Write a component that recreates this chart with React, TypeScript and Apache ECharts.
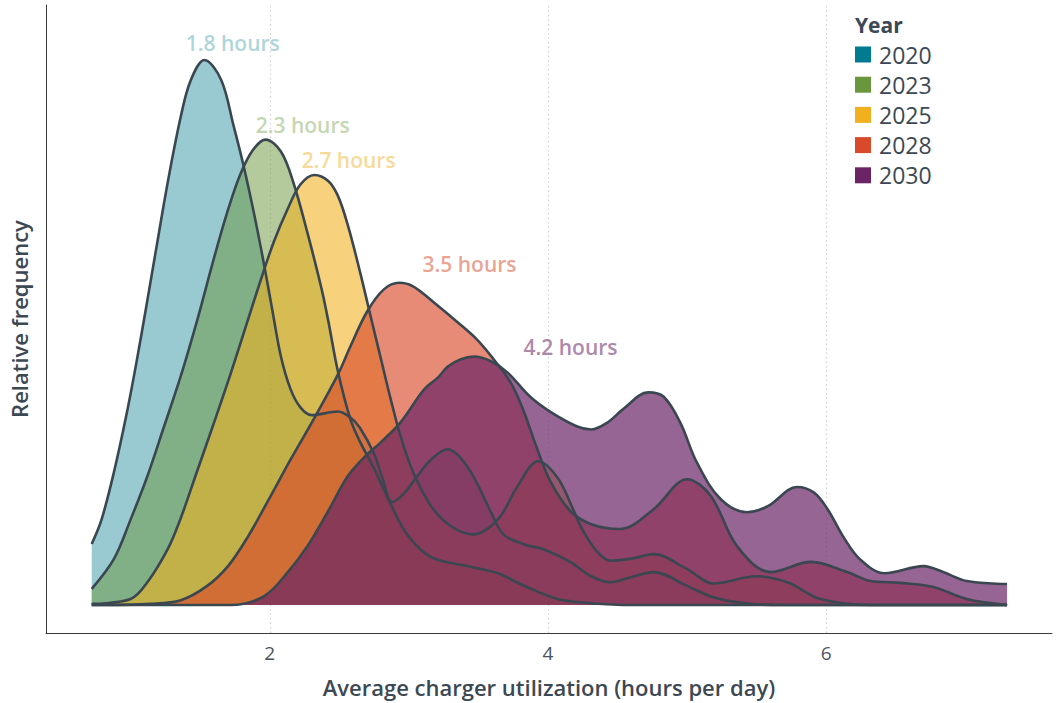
import React, { useEffect, useRef } from "react";
import * as echarts from "echarts";

// ---- data (x: hours per day, y: relative frequency) ----
const years = ["2020", "2023", "2025", "2028", "2030"];

const d2020: [number, number][] = [
  [0.72, 0.102], [0.79, 0.142], [0.88, 0.222], [0.97, 0.318], [1.04, 0.403], [1.11, 0.495],
  [1.18, 0.59], [1.27, 0.71], [1.36, 0.815], [1.43, 0.875], [1.53, 0.91], [1.65, 0.877],
  [1.74, 0.8], [1.81, 0.735], [1.89, 0.65], [1.96, 0.567], [2.02, 0.49], [2.08, 0.415],
  [2.15, 0.36], [2.22, 0.33], [2.3, 0.317], [2.49, 0.323], [2.58, 0.313], [2.65, 0.295],
  [2.75, 0.252], [2.81, 0.212], [2.88, 0.172], [2.96, 0.185], [3.06, 0.215], [3.16, 0.243],
  [3.28, 0.26], [3.37, 0.246], [3.47, 0.212], [3.59, 0.155], [3.68, 0.118], [3.82, 0.102],
  [3.98, 0.092], [4.16, 0.072], [4.31, 0.048], [4.45, 0.038], [4.59, 0.046], [4.76, 0.055],
  [5.0, 0.032], [5.2, 0.012], [5.45, 0.002], [5.7, 0], [7.3, 0],
];

const d2023: [number, number][] = [
  [0.72, 0.027], [0.88, 0.077], [1.0, 0.143], [1.12, 0.215], [1.24, 0.298], [1.36, 0.382],
  [1.48, 0.477], [1.6, 0.58], [1.7, 0.66], [1.79, 0.72], [1.88, 0.76], [1.97, 0.777],
  [2.08, 0.757], [2.17, 0.705], [2.27, 0.622], [2.37, 0.53], [2.42, 0.475], [2.49, 0.39],
  [2.58, 0.31], [2.65, 0.272], [2.75, 0.228], [2.87, 0.168], [2.99, 0.117], [3.16, 0.08],
  [3.42, 0.065], [3.64, 0.053], [3.82, 0.033], [4.07, 0.01], [4.31, 0.003], [4.6, 0], [7.3, 0],
];

const d2025: [number, number][] = [
  [0.72, 0.002], [1.0, 0.01], [1.12, 0.038], [1.27, 0.095], [1.36, 0.145], [1.48, 0.225],
  [1.6, 0.305], [1.72, 0.387], [1.84, 0.474], [1.94, 0.546], [2.03, 0.607], [2.13, 0.662],
  [2.22, 0.702], [2.32, 0.718], [2.42, 0.708], [2.49, 0.683], [2.56, 0.635], [2.65, 0.555],
  [2.73, 0.477], [2.8, 0.41], [2.87, 0.343], [2.94, 0.282], [3.03, 0.222], [3.16, 0.165],
  [3.3, 0.132], [3.46, 0.118], [3.64, 0.143], [3.78, 0.198], [3.93, 0.24], [4.07, 0.212],
  [4.18, 0.16], [4.25, 0.125], [4.35, 0.09], [4.45, 0.074], [4.59, 0.077], [4.76, 0.085],
  [5.0, 0.06], [5.19, 0.036], [5.5, 0.048], [5.72, 0.038], [5.96, 0.01], [6.32, 0], [7.3, 0],
];

const d2028: [number, number][] = [
  [0.72, 0], [1.15, 0.002], [1.36, 0.008], [1.55, 0.032], [1.7, 0.065], [1.84, 0.113],
  [1.99, 0.175], [2.15, 0.243], [2.32, 0.312], [2.49, 0.385], [2.58, 0.432], [2.7, 0.49],
  [2.82, 0.527], [2.93, 0.538], [3.03, 0.532], [3.18, 0.505], [3.35, 0.472], [3.49, 0.443],
  [3.61, 0.41], [3.73, 0.372], [3.82, 0.327], [3.92, 0.262], [4.02, 0.205], [4.16, 0.157],
  [4.31, 0.135], [4.52, 0.127], [4.76, 0.16], [5.0, 0.21], [5.17, 0.182], [5.36, 0.098],
  [5.6, 0.055], [5.89, 0.072], [6.15, 0.055], [6.32, 0.04], [6.53, 0.037], [6.77, 0.03],
  [7.01, 0.01], [7.3, 0],
];

const d2030: [number, number][] = [
  [0.72, 0], [1.72, 0], [1.96, 0.015], [2.13, 0.055], [2.27, 0.098], [2.42, 0.157],
  [2.56, 0.215], [2.68, 0.247], [2.8, 0.272], [2.94, 0.305], [3.11, 0.36], [3.21, 0.38],
  [3.28, 0.398], [3.37, 0.41], [3.47, 0.415], [3.59, 0.407], [3.71, 0.388], [3.87, 0.348],
  [4.02, 0.322], [4.21, 0.298], [4.31, 0.293], [4.43, 0.305], [4.54, 0.327], [4.72, 0.355],
  [4.83, 0.348], [4.95, 0.305], [5.07, 0.238], [5.24, 0.177], [5.43, 0.155], [5.58, 0.165],
  [5.79, 0.197], [5.91, 0.188], [6.01, 0.16], [6.12, 0.115], [6.24, 0.077], [6.42, 0.053],
  [6.7, 0.065], [6.84, 0.055], [7.01, 0.04], [7.3, 0.035],
];

const seriesData = [d2020, d2023, d2025, d2028, d2030];

// annotation texts and their anchor points (x, y in data units)
const labelTexts = ["1.8 hours", "2.3 hours", "2.7 hours", "3.5 hours", "4.2 hours"];
const labelX = [1.734, 2.237, 2.567, 3.436, 4.162];
const labelY = [0.938, 0.802, 0.743, 0.57, 0.43];

const xTicks = [2, 4, 6];

// ---- styles ----
const baseColors = ["#007b8f", "#6a963c", "#f2b01e", "#d94a2a", "#6b2466"];
const fillOpacity = [0.4, 0.5, 0.58, 0.64, 0.7];
const labelColors = ["#99cad3", "#b5cb9e", "#f6d07b", "#e48b77", "#966894"];
const outline = "#3a4751";
const textColor = "#3c4853";
const FONT = "'Open Sans', 'Noto Sans', sans-serif";

export default function App() {
  const ref = useRef<HTMLDivElement>(null);

  useEffect(() => {
    document.body.style.margin = "0";
    if (!ref.current) return;
    const chart = echarts.init(ref.current, undefined, { renderer: "svg" });

    const densitySeries = years.map((y, i) => ({
      name: y,
      type: "line",
      data: seriesData[i],
      smooth: 0.35,
      showSymbol: false,
      symbol: "none",
      color: baseColors[i],
      itemStyle: { color: baseColors[i] },
      lineStyle: { color: outline, width: 2.6 },
      areaStyle: { color: baseColors[i], opacity: fillOpacity[i] },
      z: 2,
      silent: true,
      ...(i === 0
        ? {
            markLine: {
              silent: true,
              symbol: "none",
              z: 1,
              label: { show: false },
              lineStyle: { color: "#d2d2d2", type: [1.5, 3], width: 1.2 },
              data: xTicks.map((v) => ({ xAxis: v })),
            },
          }
        : {}),
    }));

    const labelSeries = {
      name: "labels",
      type: "scatter",
      symbolSize: 1,
      itemStyle: { color: "transparent" },
      silent: true,
      z: 10,
      data: labelTexts.map((t, i) => ({
        name: t,
        value: [labelX[i], labelY[i]],
        label: { color: labelColors[i] },
      })),
      label: {
        show: true,
        position: "inside",
        formatter: "{b}",
        fontFamily: FONT,
        fontSize: 21,
        fontWeight: 600,
      },
    };

    chart.setOption({
      animation: false,
      textStyle: { fontFamily: FONT },
      grid: { left: 45, right: 4, top: 5, bottom: 69, containLabel: false },
      xAxis: {
        type: "value",
        min: 0.3914,
        max: 7.623,
        axisLine: { show: true, onZero: false, lineStyle: { color: "#3a3a3a", width: 1 } },
        axisTick: { show: false },
        splitLine: { show: false },
        axisLabel: {
          customValues: xTicks,
          color: "#4a545e",
          fontSize: 19,
          margin: 10,
          fontFamily: FONT,
        },
        name: "Average charger utilization (hours per day)",
        nameLocation: "middle",
        nameGap: 43,
        nameTextStyle: { color: textColor, fontSize: 22, fontWeight: 600, fontFamily: FONT },
      },
      yAxis: {
        type: "value",
        min: -0.0467,
        max: 1.0017,
        axisLine: { show: true, onZero: false, lineStyle: { color: "#3a3a3a", width: 1 } },
        axisTick: { show: false },
        axisLabel: { show: false },
        splitLine: { show: false },
        name: "Relative frequency",
        nameLocation: "middle",
        nameGap: 16,
        nameRotate: 90,
        nameTextStyle: { color: textColor, fontSize: 22, fontWeight: 600, fontFamily: FONT },
      },
      legend: {
        orient: "vertical",
        left: 855,
        top: 43,
        padding: 0,
        icon: "rect",
        itemWidth: 16,
        itemHeight: 16,
        itemGap: 7.2,
        selectedMode: false,
        data: years.map((y, i) => ({
          name: y,
          itemStyle: { color: baseColors[i], borderWidth: 0, opacity: 1 },
        })),
        textStyle: {
          color: textColor,
          fontSize: 23,
          lineHeight: 22,
          fontFamily: FONT,
          padding: [0, 0, 0, 3],
        },
      },
      graphic: [
        {
          type: "text",
          left: 855,
          top: 14,
          style: {
            text: "Year",
            fill: textColor,
            font: `700 21px ${FONT}`,
          },
        },
      ],
      series: [...densitySeries, labelSeries],
    });

    return () => chart.dispose();
  }, []);

  return <div ref={ref} style={{ width: 1056, height: 703 }} />;
}
